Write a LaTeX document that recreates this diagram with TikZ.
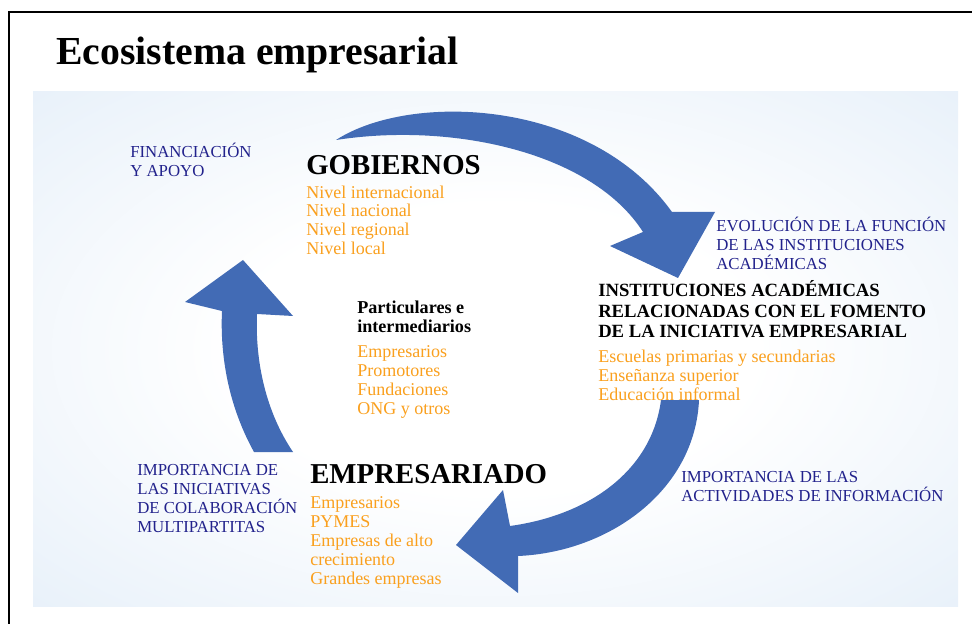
\documentclass[tikz,border=0pt]{standalone}
\usepackage{fontspec}
\setmainfont{Liberation Serif}
\usepackage{xcolor}
\definecolor{arwblue}{RGB}{66,107,181}
\definecolor{navy}{RGB}{34,34,140}
\definecolor{naranja}{RGB}{250,160,30}
\definecolor{bgblue}{RGB}{210,226,244}
\definecolor{bgmid}{RGB}{234,242,250}
\pgfdeclareradialshading{fondo}{\pgfpoint{0bp}{0bp}}{color(0bp)=(white); color(14bp)=(white); color(34bp)=(bgmid); color(54bp)=(bgblue); color(75bp)=(bgblue)}

\begin{document}
\begin{tikzpicture}[x=0.75pt, y=-0.75pt,
    every node/.style={inner sep=0pt, anchor=base west, align=left},
    tit/.style={font=\fontsize{29.8}{32}\selectfont\bfseries},
    hdr/.style={font=\fontsize{21.6}{24}\selectfont\bfseries},
    sub/.style={font=\fontsize{14}{15.4}\selectfont\bfseries},
    itm/.style={text=naranja, font=\fontsize{13.5}{14.25}\selectfont},
    lbl/.style={text=navy, font=\fontsize{12.6}{14.25}\selectfont},
    arw/.style={fill=arwblue, draw=none}]
    \useasboundingbox (0,0) rectangle (972,624);

    \shade[shading=fondo] (33,92) rectangle (958,606);
    \draw[line width=1.5pt] (9,624) -- (9,12) -- (972,12);

    \node[tit] (titulo) at (56,65) {Ecosistema empresarial};

    % arrows
    \fill[arw] (336,140) .. controls (410,92) and (590,98) .. (672,212)
        -- (715,212) -- (678,278) -- (610,246) -- (643,232)
        .. controls (592,152) and (452,122) .. (336,140) -- cycle;
    \fill[arw] (661,400) -- (699,400) .. controls (695,490) and (610,552) .. (518,556)
        -- (518,593) -- (456,545) -- (503,490) -- (510,526)
        .. controls (590,515) and (652,470) .. (661,400) -- cycle;
    \fill[arw] (254,452) .. controls (228,405) and (220,355) .. (222,311)
        -- (185,302) -- (243,260) -- (293,316) -- (257,314)
        .. controls (255,362) and (266,412) .. (293,452) -- cycle;

    % multi-line nodes sit on the baseline of their last line
    \node[lbl] (fin) at (130,177) {FINANCIACIÓN\\Y APOYO};
    \node[hdr] (gob) at (306,175) {GOBIERNOS};
    \node[itm] (gobl) at (306,255) {Nivel internacional\\Nivel nacional\\Nivel regional\\Nivel local};

    \node[lbl] (evol) at (716,270) {EVOLUCIÓN DE LA FUNCIÓN\\DE LAS INSTITUCIONES\\ACADÉMICAS};
    \node[sub] (inst) at (598,338) {INSTITUCIONES ACADÉMICAS\\RELACIONADAS CON EL FOMENTO\\DE LA INICIATIVA EMPRESARIAL};
    \node[itm] (instl) at (598,400) {Escuelas primarias y secundarias\\Enseñanza superior\\Educación informal};

    \node[sub, font=\fontsize{13.6}{14.6}\selectfont\bfseries] (part) at (357,333) {Particulares e\\intermediarios};
    \node[itm] (partl) at (357,414) {Empresarios\\Promotores\\Fundaciones\\ONG y otros};

    \node[hdr] (empr) at (310,483) {EMPRESARIADO};
    \node[itm] (emprl) at (310,584) {Empresarios\\PYMES\\Empresas de alto\\crecimiento\\Grandes empresas};

    \node[lbl] (impc) at (137,532) {IMPORTANCIA DE\\LAS INICIATIVAS\\DE COLABORACIÓN\\MULTIPARTITAS};
    \node[lbl] (impi) at (681,501) {IMPORTANCIA DE LAS\\ACTIVIDADES DE INFORMACIÓN};

\end{tikzpicture}
\end{document}
